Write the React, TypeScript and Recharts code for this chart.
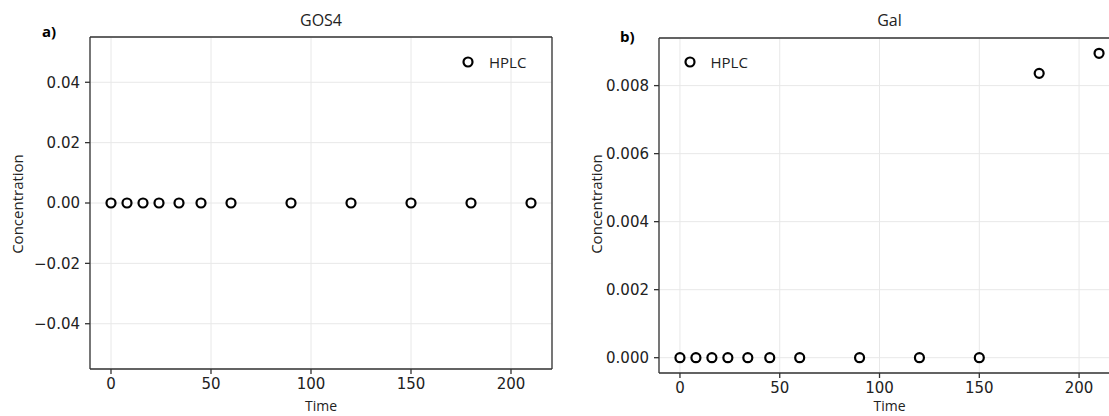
import {
  ScatterChart,
  Scatter,
  XAxis,
  YAxis,
  CartesianGrid,
  ReferenceLine,
} from "recharts";

const TIMES = [0, 8, 16, 24, 34, 45, 60, 90, 120, 150, 180, 210];
const GOS4_HPLC = [0, 0, 0, 0, 0, 0, 0, 0, 0, 0, 0, 0];
const GAL_HPLC = [0, 0, 0, 0, 0, 0, 0, 0, 0, 0, 0.00836, 0.00895];
const X_TICKS = [0, 50, 100, 150, 200];
const GOS4_TICKS = [-0.04, -0.02, 0, 0.02, 0.04];
const GAL_TICKS = [0, 0.002, 0.004, 0.006, 0.008];

const X_DOMAIN: [number, number] = [-10.5, 220.5];
const AXIS_COLOR = "#333";
const TEXT_COLOR = "#222";
const LABEL_FONT = "'Open Sans', sans-serif";
const TICK_FONT = "'DejaVu Sans', sans-serif";

const ring = (props: any) => (
  <circle cx={props.cx} cy={props.cy} r={4.5} fill="#fff" stroke="#000" strokeWidth={2.2} />
);

interface PanelProps {
  left: number;
  width: number;
  letter: string;
  letterX: number;
  letterY: number;
  title: string;
  values: number[];
  yDomain: [number, number];
  yTicks: number[];
  decimals: number;
  marginLeft: number;
  marginTop: number;
  marginBottom: number;
  marginRight: number;
  legendX: number;
  labelX: number;
}

function Panel(p: PanelProps) {
  const data = TIMES.map((t, i) => ({ time: t, value: p.values[i] }));
  const fmt = (v: number) => {
    const s = v.toFixed(p.decimals);
    return v < 0 ? "\u2212" + s.slice(1) : s;
  };
  const plotLeft = p.marginLeft + 55;
  const plotRight = p.width - p.marginRight;
  const textStyle = { fontFamily: LABEL_FONT, color: TEXT_COLOR };
  return (
    <div style={{ position: "absolute", left: p.left, top: 0, width: p.width, height: 416 }}>
      <ScatterChart
        width={p.width}
        height={416}
        margin={{ top: p.marginTop, right: p.marginRight, bottom: p.marginBottom, left: p.marginLeft }}
      >
        <CartesianGrid stroke="#e8e8e8" strokeWidth={1} />
        <XAxis
          type="number"
          dataKey="time"
          domain={X_DOMAIN}
          ticks={X_TICKS}
          allowDataOverflow
          height={30}
          tickSize={5}
          tickMargin={4}
          stroke={AXIS_COLOR}
          strokeWidth={1.3}
          tick={{ fill: TEXT_COLOR, fontSize: 15, fontFamily: TICK_FONT }}
        />
        <YAxis
          type="number"
          dataKey="value"
          domain={p.yDomain}
          ticks={p.yTicks}
          allowDataOverflow
          width={55}
          tickSize={5}
          tickMargin={5}
          tickFormatter={fmt}
          stroke={AXIS_COLOR}
          strokeWidth={1.3}
          tick={{ fill: TEXT_COLOR, fontSize: 15, fontFamily: TICK_FONT }}
        />
        <ReferenceLine y={p.yDomain[1]} stroke={AXIS_COLOR} strokeWidth={1.3} />
        <ReferenceLine x={X_DOMAIN[1]} stroke={AXIS_COLOR} strokeWidth={1.3} />
        <Scatter name="HPLC" data={data} shape={ring} isAnimationActive={false} />
      </ScatterChart>
      <div
        style={{
          ...textStyle,
          position: "absolute",
          left: p.legendX - 7,
          top: 52,
          display: "flex",
          alignItems: "center",
          fontSize: 15,
          height: 20,
        }}
      >
        <svg width={14} height={14} style={{ marginRight: 14 }}>
          <circle cx={7} cy={7} r={4.5} fill="#fff" stroke="#000" strokeWidth={2.2} />
        </svg>
        HPLC
      </div>
      <div
        style={{
          ...textStyle,
          position: "absolute",
          left: plotLeft,
          width: Math.min(plotRight, 1109 - p.left + 11) - plotLeft,
          top: 9,
          textAlign: "center",
          fontSize: 16,
        }}
      >
        {p.title}
      </div>
      <div
        style={{
          ...textStyle,
          position: "absolute",
          left: p.letterX,
          top: p.letterY,
          fontWeight: 700,
          fontSize: 15,
          color: "#000",
        }}
      >
        {p.letter}
      </div>
      <div
        style={{
          ...textStyle,
          position: "absolute",
          left: p.labelX - 70,
          top: 204 - 10,
          width: 140,
          height: 20,
          lineHeight: "20px",
          textAlign: "center",
          transform: "rotate(-90deg)",
          fontSize: 15,
        }}
      >
        Concentration
      </div>
      <div
        style={{
          ...textStyle,
          position: "absolute",
          left: plotLeft,
          width: Math.min(plotRight, 1109 - p.left + 11) - plotLeft,
          top: 398,
          height: 16,
          lineHeight: "16px",
          textAlign: "center",
          fontSize: 14,
        }}
      >
        Time
      </div>
    </div>
  );
}

export default function App() {
  return (
    <div style={{ position: "fixed", left: 0, top: 0, width: 1109, height: 416, overflow: "hidden", background: "#fff" }}>
      <Panel
        left={0}
        width={560}
        letter="a)"
        letterX={42}
        letterY={21}
        title="GOS4"
        values={GOS4_HPLC}
        yDomain={[-0.055, 0.055]}
        yTicks={GOS4_TICKS}
        decimals={2}
        marginLeft={35}
        marginTop={37}
        marginBottom={17}
        marginRight={8}
        legendX={468}
        labelX={17}
      />
      <Panel
        left={560}
        width={570}
        letter="b)"
        letterX={60}
        letterY={26}
        title="Gal"
        values={GAL_HPLC}
        yDomain={[-0.00045, 0.0094]}
        yTicks={GAL_TICKS}
        decimals={3}
        marginLeft={44}
        marginTop={38}
        marginBottom={13}
        marginRight={10}
        legendX={129.5}
        labelX={36}
      />
    </div>
  );
}
